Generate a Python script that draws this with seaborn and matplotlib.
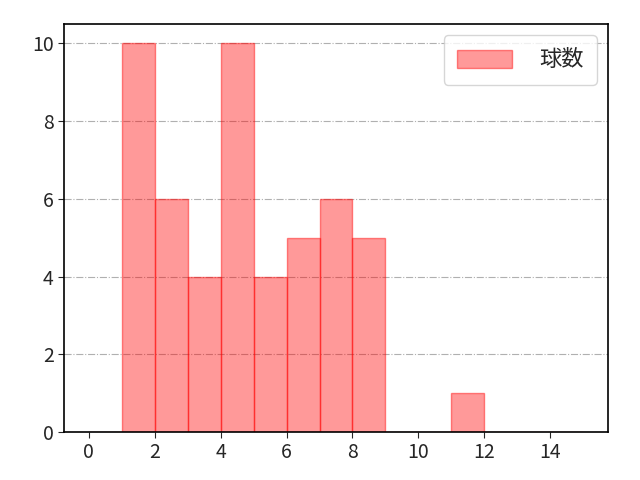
import matplotlib
matplotlib.use("Agg")
import matplotlib.pyplot as plt
import seaborn as sns
import numpy as np

sns.set_style("white")
plt.rcParams['font.family'] = ['Noto Sans CJK JP', 'DejaVu Sans']

bin_starts = [1, 2, 3, 4, 5, 6, 7, 8, 11]
counts = [10, 6, 4, 10, 4, 5, 6, 5, 1]
label = "球数"

fig, ax = plt.subplots(figsize=(6.4, 4.8), dpi=100)
sns.histplot(x=np.array(bin_starts) + 0.5, weights=counts, bins=range(0, 16),
             color="red", alpha=0.4, edgecolor=(1, 0, 0, 0.45), linewidth=1,
             label=label, ax=ax)
ax.set_xlim(-0.75, 15.75)
ax.set_ylim(0, 10.5)
ax.set_xticks(range(0, 15, 2))
ax.set_xlabel("")
ax.set_ylabel("")
ax.yaxis.grid(True, linestyle="-.", color="#b0b0b0", linewidth=0.8)
ax.set_axisbelow(True)
for s in ax.spines.values():
    s.set_visible(True)
    s.set_color("black")
    s.set_linewidth(1.2)
ax.tick_params(axis="both", labelsize=14, length=4, bottom=True, left=True)
ax.legend(loc="upper right", fontsize=16, handlelength=2.5, handleheight=0.9,
          borderpad=0.6, handletextpad=1.2)
fig.subplots_adjust(left=0.1, right=0.95, top=0.95, bottom=0.1)
fig.savefig("out.png", dpi=100)
